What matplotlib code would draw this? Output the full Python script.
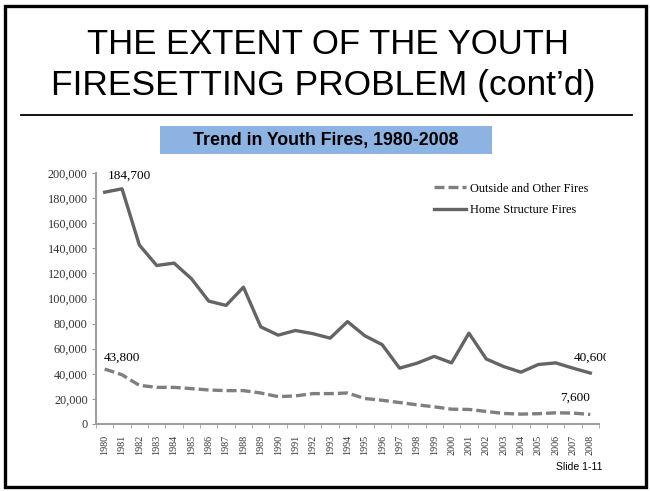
import matplotlib.pyplot as plt
from matplotlib.patches import Rectangle
from matplotlib.lines import Line2D
from matplotlib.transforms import Bbox

# Youth fires by year, 1980-2008
years = list(range(1980, 2009))
home_fires = [184700, 187400, 142600, 126300, 128200, 115800, 97900, 94500,
              109000, 77400, 70800, 74500, 72000, 68400, 81600, 70300, 63200,
              44500, 48400, 53900, 48700, 72400, 51800, 45800, 41300, 47400,
              48700, 44500, 40600]
outside_fires = [43800, 39200, 30800, 29200, 29200, 28200, 27100, 26600,
                 26600, 24700, 21800, 22400, 24200, 24200, 24700, 20300, 18900,
                 17100, 15300, 13700, 11800, 11600, 10000, 8400, 7900, 8200,
                 8900, 8700, 7600]
y_ticks = list(range(0, 200001, 20000))

W, H = 650, 491
fig = plt.figure(figsize=(W / 100, H / 100), dpi=100)


def fx(px):
    return px / W


def fy(py):
    return 1 - py / H


# slide frame, title and rule
fig.patches.append(Rectangle((fx(5), fy(487)), fx(641), 481 / H, transform=fig.transFigure,
                             fill=False, edgecolor='black', linewidth=2.4))
fig.text(0.505, fy(44), 'THE EXTENT OF THE YOUTH', ha='center', va='center',
         fontsize=25, family='Liberation Sans')
fig.text(0.497, fy(86), 'FIRESETTING PROBLEM (cont\u2019d)', ha='center', va='center',
         fontsize=25.5, family='Liberation Sans')
fig.lines.append(Line2D([fx(21), fx(632)], [fy(115), fy(115)], transform=fig.transFigure,
                        color='black', linewidth=1.3))

# chart heading box
fig.patches.append(Rectangle((fx(160), fy(154)), fx(332), 28 / H, transform=fig.transFigure,
                             facecolor='#8db3e2', edgecolor='none'))
fig.text(fx(326), fy(140), 'Trend in Youth Fires, 1980-2008', ha='center', va='center',
         fontsize=12.8, fontweight='bold', family='Liberation Sans')

ax = fig.add_axes([fx(96), fy(424), fx(599 - 96), (424 - 173) / H])
x = list(range(len(years)))
ax.plot(x, outside_fires, color='#7f7f7f', linewidth=2.4, dashes=(3, 1.2),
        label='Outside and Other Fires')
ax.plot(x, home_fires, color='#646464', linewidth=2.4, label='Home Structure Fires')

serif = 'Liberation Serif'
ax.set_xlim(-0.5, len(years) - 0.5)
ax.set_ylim(0, 200000)
ax.set_yticks(y_ticks)
ax.set_yticklabels([f'{v:,}' for v in y_ticks], fontsize=8.8, family=serif, color='#333333')
ax.set_xticks(x)
ax.set_xticklabels([str(y) for y in years], rotation=90, fontsize=7.3, family=serif,
                   color='#333333')
ax.set_xticks([i - 0.5 for i in range(len(years) + 1)], minor=True)
ax.tick_params(axis='x', which='major', length=0, pad=8)
ax.tick_params(axis='x', which='minor', length=3, color='#999999', direction='out')
ax.tick_params(axis='y', length=3, color='#999999', direction='out', pad=3)
for side in ['top', 'right']:
    ax.spines[side].set_visible(False)
for side in ['left', 'bottom']:
    ax.spines[side].set_color('#a0a0a0')
    ax.spines[side].set_linewidth(1.5)

# end-point value labels
ax.annotate(f'{home_fires[0]:,}', (x[0], home_fires[0]), xytext=(2, 12),
            textcoords='offset points', fontsize=9.5, family=serif, ha='left', va='center')
ax.annotate(f'{outside_fires[0]:,}', (x[0], outside_fires[0]), xytext=(-1, 8),
            textcoords='offset points', fontsize=9.5, family=serif, ha='left', va='center')
last_home = ax.annotate(f'{home_fires[-1]:,}', (x[-1], home_fires[-1]), xytext=(14, 11),
                        textcoords='offset points', fontsize=9.5, family=serif,
                        ha='right', va='center', annotation_clip=False)
# the chart image ends just left of this label's last digit
last_home.set_clip_on(True)
last_home.set_clip_box(Bbox([[0, 0], [606, H]]))
ax.annotate(f'{outside_fires[-1]:,}', (x[-1], outside_fires[-1]), xytext=(0, 12),
            textcoords='offset points', fontsize=9.5, family=serif, ha='right', va='center')

ax.legend(loc='upper right', bbox_to_anchor=(fx(599 - 96) / fx(503), 1.005),
          frameon=False, prop={'family': serif, 'size': 8.8}, handlelength=2.6,
          handletextpad=0.3, labelspacing=0.75)

fig.text(fx(602), fy(467), 'Slide 1-11', ha='right', va='center', fontsize=7.5,
         family='Liberation Sans')

fig.savefig('out.png', dpi=100)
